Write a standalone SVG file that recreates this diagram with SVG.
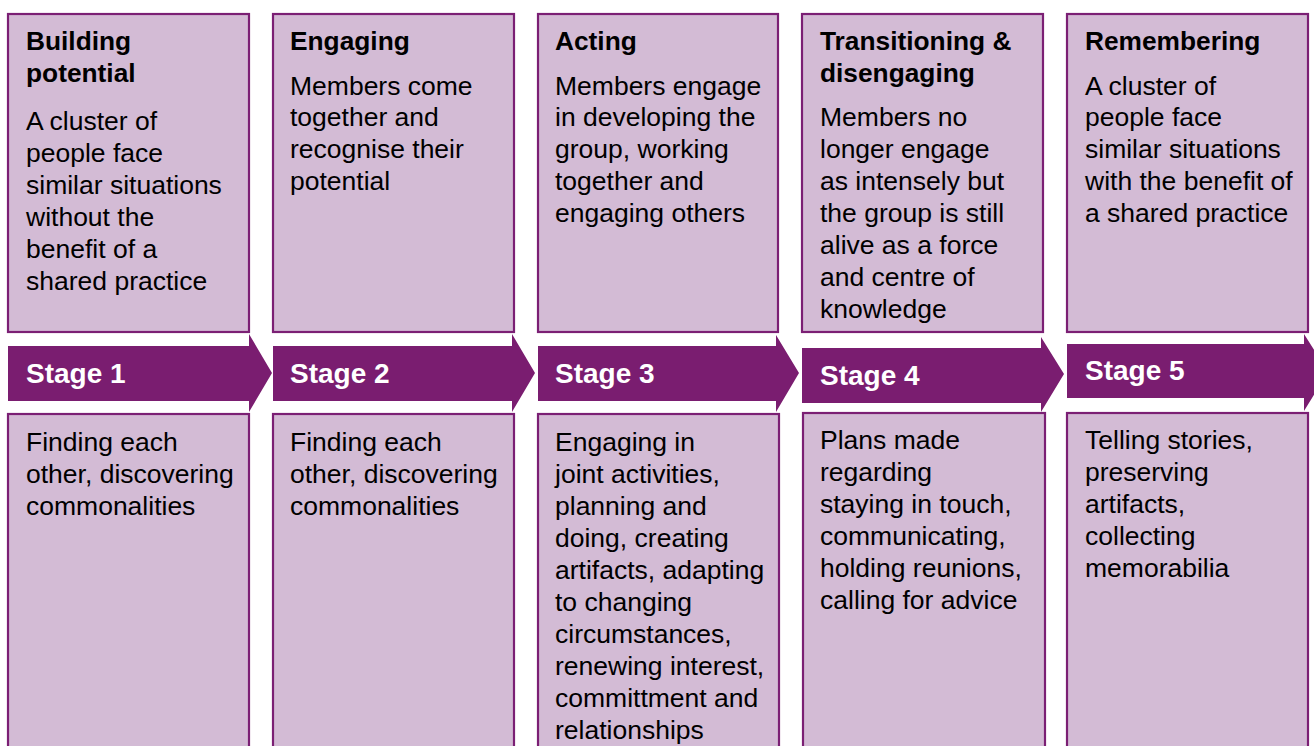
<svg xmlns="http://www.w3.org/2000/svg" width="1314" height="746" viewBox="0 0 1314 746">
<style>
.box{fill:#D3BBD5;stroke:#7B1F74;stroke-width:2.2}
.arrow{fill:#7A1D70}
.t{font-family:"Liberation Sans",Arial,sans-serif;font-size:26.5px;fill:#000}
.b{font-weight:bold;font-size:26.3px}
.s{font-family:"Liberation Sans",Arial,sans-serif;font-size:28px;font-weight:bold;fill:#fff}
</style>
<rect x="0" y="0" width="1314" height="746" fill="#fff"/>
<g id="stage1">
<rect class="box" x="8" y="14" width="241" height="318"/>
<polygon class="arrow" points="8,346 249,346 249,334 272,373 249,412 249,401 8,401"/>
<rect class="box" x="8" y="414" width="241" height="350"/>
<text class="t b" x="26" y="50">Building</text>
<text class="t b" x="26" y="82">potential</text>
<text class="t" x="26" y="130">A cluster of</text>
<text class="t" x="26" y="162">people face</text>
<text class="t" x="26" y="194">similar situations</text>
<text class="t" x="26" y="226">without the</text>
<text class="t" x="26" y="258">benefit of a</text>
<text class="t" x="26" y="290">shared practice</text>
<text class="s" x="26" y="383">Stage 1</text>
<text class="t" x="26" y="451">Finding each</text>
<text class="t" x="26" y="483">other, discovering</text>
<text class="t" x="26" y="515">commonalities</text>
</g>
<g id="stage2">
<rect class="box" x="273" y="14" width="241" height="318"/>
<polygon class="arrow" points="273,346 512,346 512,334 535,373 512,412 512,401 273,401"/>
<rect class="box" x="273" y="414" width="241" height="350"/>
<text class="t b" x="290" y="50">Engaging</text>
<text class="t" x="290" y="95">Members come</text>
<text class="t" x="290" y="126">together and</text>
<text class="t" x="290" y="158">recognise their</text>
<text class="t" x="290" y="190">potential</text>
<text class="s" x="290" y="383">Stage 2</text>
<text class="t" x="290" y="451">Finding each</text>
<text class="t" x="290" y="483">other, discovering</text>
<text class="t" x="290" y="515">commonalities</text>
</g>
<g id="stage3">
<rect class="box" x="538" y="14" width="240" height="318"/>
<polygon class="arrow" points="538,346 776,346 776,335 799,373 776,412 776,401 538,401"/>
<rect class="box" x="538" y="414" width="241" height="350"/>
<text class="t b" x="555" y="50">Acting</text>
<text class="t" x="555" y="95">Members engage</text>
<text class="t" x="555" y="126">in developing the</text>
<text class="t" x="555" y="158">group, working</text>
<text class="t" x="555" y="190">together and</text>
<text class="t" x="555" y="222">engaging others</text>
<text class="s" x="555" y="383">Stage 3</text>
<text class="t" x="555" y="451">Engaging in</text>
<text class="t" x="555" y="483">joint activities,</text>
<text class="t" x="555" y="515">planning and</text>
<text class="t" x="555" y="547">doing, creating</text>
<text class="t" x="555" y="579">artifacts, adapting</text>
<text class="t" x="555" y="611">to changing</text>
<text class="t" x="555" y="643">circumstances,</text>
<text class="t" x="555" y="675">renewing interest,</text>
<text class="t" x="555" y="707">committment and</text>
<text class="t" x="555" y="739">relationships</text>
</g>
<g id="stage4">
<rect class="box" x="802" y="14" width="241" height="318"/>
<polygon class="arrow" points="802,348 1041,348 1041,337 1064,374 1041,412 1041,403 802,403"/>
<rect class="box" x="803" y="413" width="242" height="350"/>
<text class="t b" x="820" y="50">Transitioning &amp;</text>
<text class="t b" x="820" y="82">disengaging</text>
<text class="t" x="820" y="126">Members no</text>
<text class="t" x="820" y="158">longer engage</text>
<text class="t" x="820" y="190">as intensely but</text>
<text class="t" x="820" y="222">the group is still</text>
<text class="t" x="820" y="254">alive as a force</text>
<text class="t" x="820" y="286">and centre of</text>
<text class="t" x="820" y="318">knowledge</text>
<text class="s" x="820" y="385">Stage 4</text>
<text class="t" x="820" y="449">Plans made</text>
<text class="t" x="820" y="481">regarding</text>
<text class="t" x="820" y="513">staying in touch,</text>
<text class="t" x="820" y="545">communicating,</text>
<text class="t" x="820" y="577">holding reunions,</text>
<text class="t" x="820" y="609">calling for advice</text>
</g>
<g id="stage5">
<rect class="box" x="1067" y="14" width="241" height="318"/>
<polygon class="arrow" points="1067,344 1304,344 1304,334 1328,372 1304,411 1304,398 1067,398"/>
<rect class="box" x="1067" y="413" width="241" height="350"/>
<text class="t b" x="1085" y="50">Remembering</text>
<text class="t" x="1085" y="95">A cluster of</text>
<text class="t" x="1085" y="126">people face</text>
<text class="t" x="1085" y="158">similar situations</text>
<text class="t" x="1085" y="190">with the benefit of</text>
<text class="t" x="1085" y="222">a shared practice</text>
<text class="s" x="1085" y="380">Stage 5</text>
<text class="t" x="1085" y="449">Telling stories,</text>
<text class="t" x="1085" y="481">preserving</text>
<text class="t" x="1085" y="513">artifacts,</text>
<text class="t" x="1085" y="545">collecting</text>
<text class="t" x="1085" y="577">memorabilia</text>
</g>
<g id="connectors"/>
</svg>
